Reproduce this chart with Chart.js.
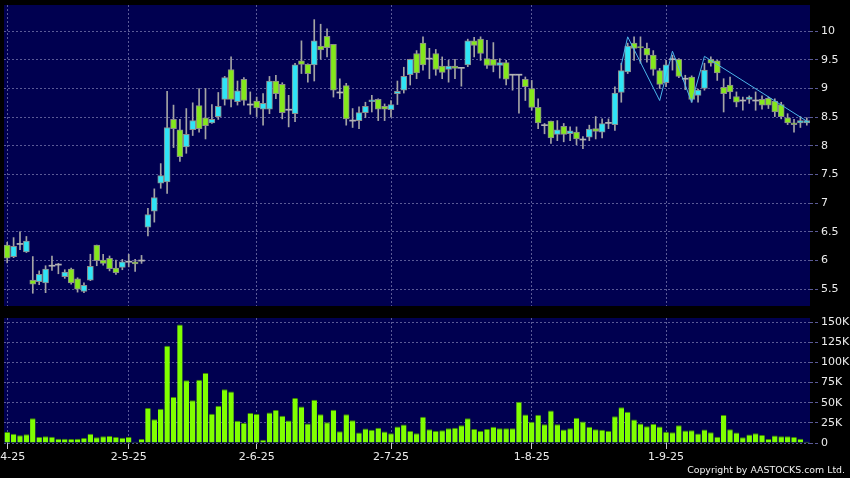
<!DOCTYPE html>
<html>
<head>
<meta charset="utf-8">
<script src="https://cdn.jsdelivr.net/npm/chart.js@4.4.0/dist/chart.umd.min.js"></script>
<style>
  html, body { margin: 0; padding: 0; background: #000; }
  #wrap { position: relative; width: 850px; height: 478px; overflow: hidden; }
  #price { position: absolute; left: 0; top: 0; }
  #vol { position: absolute; left: 0; top: 310px; }
  #copy { position: absolute; right: 5px; top: 464px; color: #f0f0f0;
          font: 9.4px "DejaVu Sans", sans-serif; line-height: 12px; white-space: nowrap; }
</style>
</head>
<body>
<div id="wrap">
  <canvas id="price" width="850" height="310"></canvas>
  <canvas id="vol" width="850" height="168"></canvas>
  <div id="copy">Copyright by AASTOCKS.com Ltd.</div>
</div>
<script>
// daily OHLC (1 Apr 2025 onwards)
const opens = [6.27,6.07,6.29,6.15,5.66,5.63,5.61,5.91,5.93,5.72,5.85,5.68,5.46,5.66,6.27,6.01,6.04,5.87,5.88,5.98,
  5.98,6.00,6.58,6.86,7.35,7.37,8.46,8.28,7.98,8.28,8.70,8.49,8.40,8.51,8.81,9.33,8.77,9.16,8.72,8.78,
  8.64,8.64,9.13,9.07,8.63,8.56,9.48,9.42,9.41,9.74,9.91,9.77,8.93,9.05,8.44,8.44,8.58,8.77,8.81,8.69,
  8.63,8.91,8.97,9.24,9.61,9.79,9.52,9.61,9.39,9.33,9.39,9.36,9.41,9.83,9.86,9.52,9.51,9.40,9.45,9.24,
  9.24,9.16,9.00,8.67,8.36,8.43,8.20,8.34,8.21,8.24,8.11,8.15,8.30,8.24,8.40,8.37,8.93,9.29,9.79,9.73,
  9.70,9.58,9.31,9.10,9.51,9.51,9.17,9.20,8.88,9.00,9.51,9.48,9.02,9.06,8.86,8.79,8.81,8.79,8.81,8.83,
  8.78,8.72,8.49,8.40,8.40,8.40];
const highs = [6.32,6.40,6.50,6.42,6.07,5.82,5.91,6.08,5.95,5.84,5.87,5.70,5.61,6.11,6.27,6.11,6.08,6.01,6.02,6.11,
  6.02,6.09,6.91,7.25,7.69,8.95,8.71,8.46,8.65,8.75,9.00,9.00,8.72,8.93,9.21,9.55,9.13,9.19,8.94,8.85,
  8.91,9.21,9.23,9.10,8.88,9.44,9.83,9.43,10.20,10.12,10.04,9.77,9.17,9.09,8.65,8.68,8.76,8.88,8.82,8.73,
  8.79,9.13,9.37,9.51,9.66,9.90,9.70,9.68,9.55,9.49,9.51,9.36,9.86,9.89,9.90,9.84,9.80,9.52,9.49,9.24,
  9.24,9.20,9.14,8.82,8.39,8.43,8.44,8.39,8.33,8.33,8.16,8.36,8.51,8.47,8.47,9.03,9.44,9.79,9.90,9.90,
  9.79,9.66,9.35,9.49,9.58,9.52,9.23,9.22,8.99,9.44,9.55,9.49,9.17,9.20,8.94,8.85,8.87,8.94,8.87,8.85,
  8.82,8.76,8.56,8.46,8.51,8.49];
const lows = [5.96,6.05,6.19,6.14,5.43,5.58,5.44,5.83,5.77,5.69,5.59,5.45,5.44,5.65,5.91,5.92,5.82,5.76,5.84,5.89,
  5.81,5.95,6.43,6.67,7.26,7.17,7.97,7.73,7.87,8.18,8.24,8.12,8.39,8.46,8.71,8.68,8.71,8.71,8.55,8.51,
  8.36,8.56,8.82,8.47,8.33,8.42,9.26,9.11,9.13,9.51,9.55,8.85,8.82,8.36,8.32,8.30,8.49,8.59,8.44,8.44,
  8.50,8.72,8.92,9.06,9.17,9.32,9.17,9.23,9.17,9.11,9.17,9.04,9.38,9.55,9.49,9.35,9.29,9.18,9.06,8.97,
  8.57,8.79,8.62,8.30,8.21,8.04,8.09,8.07,8.09,8.02,7.95,8.09,8.12,8.14,8.30,8.27,8.76,9.26,9.49,9.44,
  9.46,9.23,9.00,9.03,9.32,9.19,8.98,8.76,8.76,8.97,9.39,9.14,8.59,8.82,8.68,8.62,8.74,8.62,8.64,8.65,
  8.51,8.47,8.37,8.24,8.32,8.36];
const closes = [6.04,6.25,6.29,6.34,5.59,5.76,5.85,5.91,5.93,5.80,5.61,5.50,5.57,5.90,6.00,5.95,5.86,5.79,5.98,5.98,
  5.94,6.00,6.80,7.10,7.48,8.32,8.30,7.81,8.20,8.44,8.30,8.35,8.46,8.69,9.19,8.81,8.96,8.79,8.72,8.66,
  8.74,9.13,8.91,8.58,8.63,9.41,9.42,9.26,9.83,9.67,9.71,8.97,8.93,8.47,8.44,8.58,8.69,8.80,8.64,8.64,
  8.72,8.95,9.21,9.51,9.27,9.41,9.52,9.33,9.28,9.39,9.35,9.36,9.83,9.75,9.61,9.40,9.40,9.45,9.16,9.24,
  9.24,9.03,8.67,8.40,8.36,8.14,8.28,8.20,8.26,8.12,8.11,8.29,8.25,8.39,8.40,8.92,9.31,9.74,9.70,9.71,
  9.58,9.33,9.07,9.41,9.51,9.21,9.17,8.81,8.97,9.32,9.44,9.27,8.91,8.94,8.76,8.79,8.85,8.79,8.71,8.71,
  8.59,8.51,8.40,8.37,8.44,8.44];
// volume in thousands of shares
const volumesK = [13.6,11.6,9.5,10.7,30.6,7.4,8.3,7.8,5.4,5.4,5.0,5.4,6.2,11.6,7.0,8.3,8.7,7.4,6.6,7.4,
  1.5,5.0,43.4,29.3,42.6,120.7,57,147,77.7,52.9,78.5,86.8,36.4,46.3,66.5,64,27.7,24.8,37.2,36,
  4.1,37.8,41,33.8,27.9,55.8,45.4,24.2,53.7,35.8,25.8,41.3,14.6,35.8,28.3,12.9,17.9,16.3,18.8,14.2,
  12.1,20.4,22.9,15,12.1,32.5,17.1,15,15.8,18.3,18.8,22.1,30.8,17.5,15,17.5,20,18.3,18.3,18.3,
  51.3,35.4,26.3,35,23.3,40.4,23.3,16.7,18.3,31.3,26.7,20,17.1,16.3,15,33.3,44.2,38.8,29.2,24.2,
  20.8,23.8,20.4,13.8,13.3,22.1,15.4,15.8,11.7,16.7,13.3,7.9,34.6,17.1,12.9,7.1,10.4,12.1,10,5,
  9.2,8.3,8.3,7.5,5.4,1.7];
// hand-drawn trend line: bar index -> price
const trendIdx = [96, 97, 102, 104, 107, 109, 125];
const trendVal = [9.41, 9.90, 8.79, 9.65, 8.76, 9.56, 8.43];

const tickIdx = [0, 19, 39, 60, 82, 103];
const tickText = ['1-4-25', '2-5-25', '2-6-25', '2-7-25', '1-8-25', '1-9-25'];
const priceTicks = [5.5, 6, 6.5, 7, 7.5, 8, 8.5, 9, 9.5, 10];
const volTicks = [0, 25, 50, 75, 100, 125, 150];

const days = opens.map((_, i) => i);
const wicks = days.map(i => [lows[i], highs[i]]);
const bodies = days.map(i => opens[i] === closes[i]
  ? [opens[i] - 0.009, opens[i] + 0.009]
  : [opens[i], closes[i]]);
const bodyColors = days.map(i => closes[i] > opens[i] ? '#2fe4f6'
  : closes[i] < opens[i] ? '#84e81c' : '#b4b4b4');
const bodyBorders = days.map(i => opens[i] === closes[i] ? 0 : 1);
const trend = days.map(() => null);
trendIdx.forEach((d, k) => { trend[d] = trendVal[k]; });

const GRID = '#5a5a96';
const FONT = { family: 'DejaVu Sans', size: 11 };
const isMonth = ctx => tickIdx.includes(ctx.index);

const panelBg = {
  id: 'panelBg',
  beforeDraw(chart) {
    const { ctx, chartArea: a } = chart;
    ctx.save();
    ctx.fillStyle = '#000050';
    ctx.fillRect(a.left, a.top, a.right - a.left, a.bottom - a.top);
    ctx.restore();
  }
};

function yAxis(ticks, min, max, fmt){
  return {
    position: 'right', min, max,
    afterBuildTicks: s => { s.ticks = ticks.map(v => ({ value: v })); },
    grid: { color: GRID, tickColor: GRID, tickLength: 8, tickBorderDash: [3, 2] },
    border: { display: false, dash: [2, 2] },
    ticks: { color: '#ececec', font: FONT, padding: 3, callback: fmt },
    afterFit: s => { s.width = 40; s.paddingTop = 0; s.paddingBottom = 0; }
  };
}

new Chart(document.getElementById('price'), {
  type: 'bar',
  data: {
    labels: days,
    datasets: [
      { type: 'line', data: trend, borderColor: '#4cb6ea', borderWidth: 1,
        pointRadius: 0, spanGaps: true, order: 0 },
      { data: bodies, backgroundColor: bodyColors, borderColor: '#8c8c8c',
        borderWidth: bodyBorders, borderSkipped: false, barThickness: 6, grouped: false, order: 1 },
      { data: wicks, backgroundColor: '#a4a4a4', barThickness: 1, grouped: false, order: 2 }
    ]
  },
  options: {
    responsive: false, animation: false,
    layout: { padding: { left: 4, top: 5, right: 0, bottom: 0 } },
    plugins: { legend: { display: false }, tooltip: { enabled: false } },
    scales: {
      x: {
        offset: true,
        grid: { offset: false, drawTicks: false, color: ctx => isMonth(ctx) ? GRID : 'transparent' },
        border: { display: false, dash: [2, 2] },
        ticks: { display: false, autoSkip: false },
        afterFit: s => { s.height = 4; s.paddingLeft = 0; s.paddingRight = 0; }
      },
      y: yAxis(priceTicks, 5.208, 10.455, v => String(v))
    }
  },
  plugins: [panelBg]
});

new Chart(document.getElementById('vol'), {
  type: 'bar',
  data: {
    labels: days,
    datasets: [
      { data: volumesK, backgroundColor: '#80ff00', borderColor: '#3f8a00',
        borderWidth: { top: 1, left: 0, right: 0, bottom: 0 }, barPercentage: 0.85, categoryPercentage: 1 }
    ]
  },
  options: {
    responsive: false, animation: false,
    layout: { padding: { left: 4, top: 8, right: 0, bottom: 0 } },
    plugins: { legend: { display: false }, tooltip: { enabled: false } },
    scales: {
      x: {
        offset: true,
        grid: { offset: false, tickLength: 6, tickBorderDash: [],
                color: ctx => isMonth(ctx) ? GRID : 'transparent',
                tickColor: ctx => isMonth(ctx) ? '#c8c8c8' : 'transparent' },
        border: { display: false, dash: [2, 2] },
        ticks: { autoSkip: false, maxRotation: 0, minRotation: 0, color: '#ececec', font: FONT, padding: 2,
                 callback: (v, i) => { const k = tickIdx.indexOf(i); return k < 0 ? '' : tickText[k]; } },
        afterFit: s => { s.height = 35; s.paddingLeft = 0; s.paddingRight = 0; }
      },
      y: yAxis(volTicks, 0, 155, v => v === 0 ? '0' : v + 'K')
    }
  },
  plugins: [panelBg]
});
</script>
</body>
</html>
